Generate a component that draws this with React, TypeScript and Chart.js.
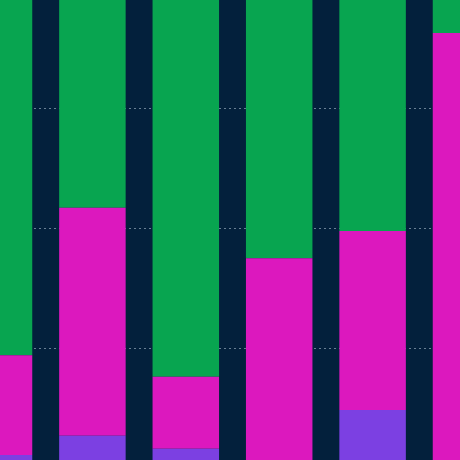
import React, { useEffect, useRef } from "react";
import { Chart, registerables } from "chart.js";

Chart.register(...registerables);

const categories = ["A", "B", "C", "D", "E", "F"];
const purpleValues = [2.7, 6.7, 4.0, 1.2, 12.1, 1.0];
const magentaValues = [20.8, 47.5, 15.0, 42.5, 37.3, 89.6];
const greenValues = [76.5, 45.8, 81.0, 56.3, 50.6, 9.4];
const yTicks = [0, 25, 50, 75, 100];

export default function App() {
  const ref = useRef<HTMLCanvasElement | null>(null);

  useEffect(() => {
    document.body.style.margin = "0";
    document.body.style.background = "#03203c";
    const canvas = ref.current;
    if (!canvas) return;
    const chart = new Chart(canvas, {
      type: "bar",
      data: {
        labels: categories,
        datasets: [
          { label: "Purple", data: purpleValues, backgroundColor: "#7c40e2" },
          { label: "Magenta", data: magentaValues, backgroundColor: "#dc18be" },
          { label: "Green", data: greenValues, backgroundColor: "#08a550" },
        ],
      },
      options: {
        responsive: false,
        animation: false,
        devicePixelRatio: 1,
        layout: { padding: 0 },
        plugins: { legend: { display: false }, tooltip: { enabled: false } },
        datasets: { bar: { categoryPercentage: 1, barPercentage: 0.712 } },
        scales: {
          x: {
            stacked: true,
            display: false,
            offset: false,
          },
          y: {
            stacked: true,
            min: yTicks[0],
            max: yTicks[yTicks.length - 1],
            afterBuildTicks: (axis: any) => {
              axis.ticks = yTicks.map((v) => ({ value: v }));
            },
            ticks: { display: false },
            border: { display: false },
            grid: {
              drawTicks: false,
              color: "rgba(190,205,220,0.55)",
              lineWidth: 1,
            },
          },
        },
      },
    } as any);
    // dashed grid
    (chart.options.scales as any).y.border = { display: false, dash: [2, 3] };
    chart.update();
    return () => chart.destroy();
  }, []);

  return (
    <div style={{ position: "fixed", left: 0, top: 0, width: 460, height: 460, overflow: "hidden", background: "#03203c" }}>
      <canvas
        ref={ref}
        width={467}
        height={480}
        style={{ position: "absolute", left: -1, top: -12, width: 467, height: 480 }}
      />
    </div>
  );
}
